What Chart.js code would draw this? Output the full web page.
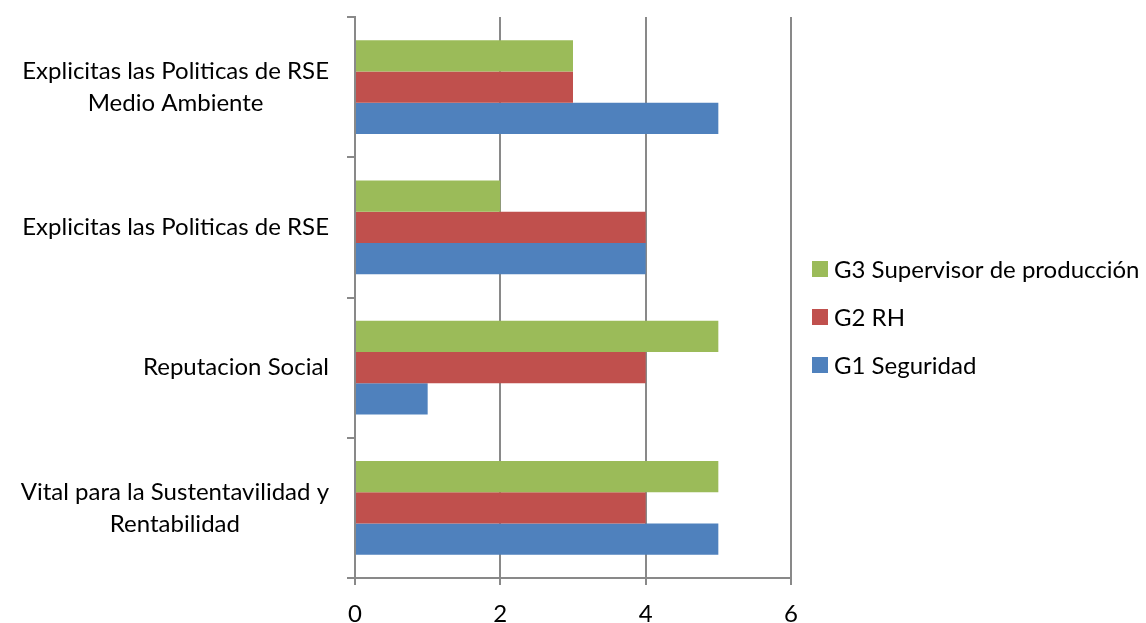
<!DOCTYPE html>
<html>
<head>
<meta charset="utf-8">
<script src="https://cdn.jsdelivr.net/npm/chart.js@4.4.1/dist/chart.umd.min.js"></script>
<style>
  html, body { margin: 0; padding: 0; background: #ffffff; }
  #wrap { width: 1146px; height: 623px; }
</style>
</head>
<body>
<div id="wrap"><canvas id="c" width="1146" height="623"></canvas></div>
<script>
// Categories, top to bottom; each entry holds the lines of its label
const categories = [
  ["Explicitas las Politicas de RSE", "Medio Ambiente"],
  ["Explicitas las Politicas de RSE"],
  ["Reputacion Social"],
  ["Vital para la Sustentavilidad y", "Rentabilidad"]
];
const seriesNames = ["G3 Supervisor de producción", "G2 RH", "G1 Seguridad"];
const g3Supervisor = [3, 2, 5, 5];
const g2RH = [3, 4, 4, 4];
const g1Seguridad = [5, 4, 1, 5];
const xTicks = [0, 2, 4, 6];

const FONT_FAMILY = "Lato, 'Liberation Sans', sans-serif";
const FONT_SIZE = 24;
const FONT = FONT_SIZE + "px " + FONT_FAMILY;
const AXIS_GRAY = "#898989";

// Category labels: each label block is right-aligned next to the axis,
// with its lines centred within the block
const categoryLabels = {
  id: "categoryLabels",
  afterDraw(chart) {
    const ctx = chart.ctx;
    const yScale = chart.scales.y;
    const right = yScale.right - 26;
    const lineHeight = 32;
    ctx.save();
    ctx.font = FONT;
    ctx.fillStyle = "#000000";
    ctx.textAlign = "center";
    ctx.textBaseline = "middle";
    chart.data.labels.forEach((lines, i) => {
      const y = yScale.getPixelForValue(i);
      const blockW = Math.max(...lines.map(l => ctx.measureText(l).width));
      const cx = right - blockW / 2;
      lines.forEach((line, j) => {
        ctx.fillText(line, cx, y + (j - (lines.length - 1) / 2) * lineHeight);
      });
    });
    ctx.restore();
  }
};

// Legend on the right side, one entry per row
const sideLegend = {
  id: "sideLegend",
  afterDraw(chart) {
    const ctx = chart.ctx;
    const x = chart.chartArea.right + 21;
    ctx.save();
    ctx.font = FONT;
    ctx.textBaseline = "middle";
    ctx.textAlign = "left";
    chart.data.datasets.forEach((ds, i) => {
      const y = 269 + i * 48;
      ctx.fillStyle = ds.backgroundColor;
      ctx.fillRect(x, y - 8, 16, 16);
      ctx.fillStyle = "#000000";
      ctx.fillText(ds.label, x + 22, y + 1);
    });
    ctx.restore();
  }
};

new Chart(document.getElementById("c"), {
  type: "bar",
  data: {
    labels: categories,
    datasets: [
      { label: seriesNames[0], data: g3Supervisor, backgroundColor: "#9BBB59" },
      { label: seriesNames[1], data: g2RH, backgroundColor: "#C0504D" },
      { label: seriesNames[2], data: g1Seguridad, backgroundColor: "#4F81BD" }
    ]
  },
  options: {
    indexAxis: "y",
    responsive: false,
    animation: false,
    devicePixelRatio: 1,
    layout: { padding: { top: 17, right: 355, left: 0, bottom: 0 } },
    datasets: {
      bar: { categoryPercentage: 0.667, barPercentage: 1.0, borderWidth: 0 }
    },
    plugins: {
      legend: { display: false },
      tooltip: { enabled: false }
    },
    scales: {
      x: {
        type: "linear",
        position: "bottom",
        min: 0,
        max: 6,
        afterBuildTicks: s => { s.ticks = xTicks.map(v => ({ value: v })); },
        afterFit: s => { s.height = 45; },
        grid: { color: AXIS_GRAY, lineWidth: 2, tickLength: 7, drawTicks: true },
        border: { display: true, color: AXIS_GRAY, width: 2 },
        ticks: { font: { family: FONT_FAMILY, size: FONT_SIZE }, color: "#000000", padding: 15, maxRotation: 0 }
      },
      y: {
        type: "category",
        position: "left",
        afterFit: s => { s.width = 355; },
        grid: { drawOnChartArea: false, drawTicks: true, tickLength: 8, color: AXIS_GRAY, lineWidth: 2, offset: true },
        border: { display: true, color: AXIS_GRAY, width: 2 },
        ticks: { display: false }
      }
    }
  },
  plugins: [categoryLabels, sideLegend]
});
</script>
</body>
</html>
